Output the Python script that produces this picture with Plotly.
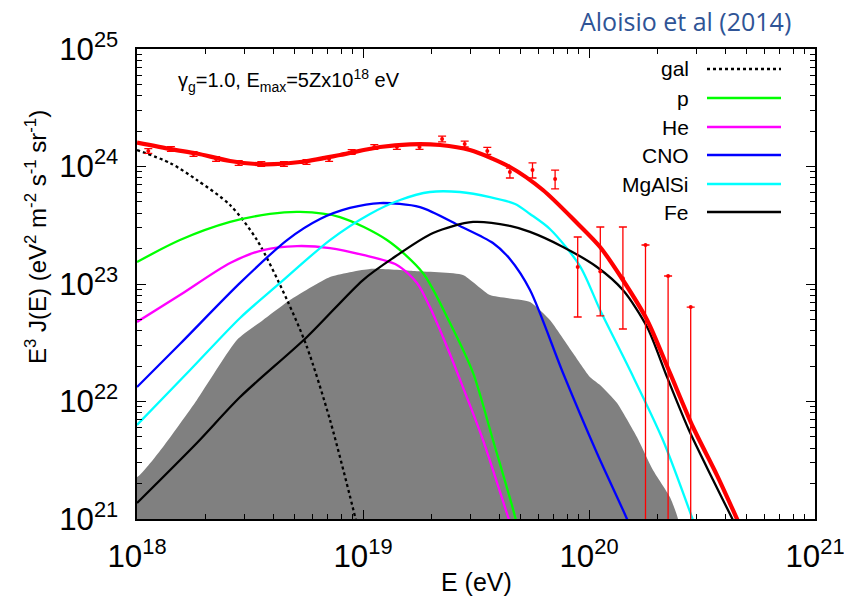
import numpy as np
import plotly.graph_objects as go

# ---------------- data (log10 values) ----------------
names = ["gal", "p", "He", "CNO", "MgAlSi", "Fe"]
colors = ["#000000", "#00FF00", "#FF00FF", "#0000FF", "#00FFFF", "#000000"]

gal_x = [18.000, 18.146, 18.265, 18.412, 18.531, 18.664, 18.752, 18.854, 18.965, 18.990]
gal_y = [24.140, 24.030, 23.885, 23.672, 23.374, 22.864, 22.464, 21.843, 21.017, 20.800]

p_x = [18.000, 18.190, 18.412, 18.588, 18.721, 18.898, 19.106, 19.265, 19.385, 19.487, 19.575, 19.673, 19.695]
p_y = [23.187, 23.374, 23.528, 23.596, 23.613, 23.570, 23.374, 23.094, 22.668, 22.243, 21.672, 21.017, 20.821]

he_x = [18.000, 18.190, 18.412, 18.558, 18.708, 18.854, 19.000, 19.150, 19.239, 19.296, 19.372, 19.442, 19.531, 19.642, 19.670]
he_y = [22.677, 22.906, 23.179, 23.289, 23.323, 23.306, 23.247, 23.162, 23.009, 22.804, 22.464, 22.123, 21.672, 21.017, 20.850]

cno_x = [18.000, 18.190, 18.456, 18.664, 18.810, 18.942, 19.075, 19.252, 19.429, 19.575, 19.650, 19.739, 19.885, 20.035, 20.168, 20.204]
cno_y = [22.123, 22.489, 23.009, 23.374, 23.553, 23.647, 23.689, 23.655, 23.494, 23.349, 23.213, 22.949, 22.243, 21.562, 21.000, 20.821]

mg_x = [18.000, 18.235, 18.456, 18.633, 18.854, 19.031, 19.164, 19.296, 19.429, 19.562, 19.673, 19.739, 19.827, 19.960, 20.049, 20.181, 20.327, 20.460, 20.491]
mg_y = [21.800, 22.268, 22.711, 23.009, 23.374, 23.596, 23.715, 23.783, 23.783, 23.740, 23.681, 23.596, 23.468, 23.153, 22.779, 22.268, 21.672, 20.991, 20.821]

fe_x = [18.000, 18.265, 18.456, 18.752, 19.000, 19.133, 19.310, 19.487, 19.650, 19.739, 19.885, 20.035, 20.150, 20.257, 20.345, 20.442, 20.549, 20.637, 20.690]
fe_y = [21.136, 21.647, 22.038, 22.549, 23.034, 23.221, 23.434, 23.528, 23.494, 23.443, 23.315, 23.145, 22.949, 22.634, 22.209, 21.757, 21.332, 20.991, 20.779]

tot_x = [18.000, 18.155, 18.265, 18.412, 18.558, 18.721, 18.898, 19.075, 19.208, 19.341, 19.473, 19.650, 19.796,
         19.947, 20.049, 20.150, 20.257, 20.358, 20.460, 20.566, 20.659, 20.712]
tot_y = [24.203, 24.146, 24.111, 24.047, 24.019, 24.038, 24.098, 24.166, 24.189, 24.183, 24.140, 23.996, 23.800,
         23.519, 23.315, 23.034, 22.694, 22.243, 21.783, 21.374, 20.983, 20.753]

gray_x = [17.900, 18.000, 18.115, 18.265, 18.442, 18.558, 18.677, 18.854, 19.031, 19.221, 19.442, 19.562, 19.739,
          19.827, 19.929, 20.004, 20.049, 20.124, 20.212, 20.283, 20.358, 20.394, 20.420, 17.900]
gray_y = [21.357, 21.357, 21.613, 22.013, 22.523, 22.694, 22.864, 23.060, 23.128, 23.111, 23.077, 22.906, 22.847,
          22.694, 22.413, 22.209, 22.140, 21.987, 21.698, 21.417, 21.187, 21.000, 20.500, 20.500]

data_x = [18.05, 18.15, 18.25, 18.35, 18.45, 18.55, 18.65, 18.75, 18.85, 18.95, 19.05, 19.15, 19.25,
          19.35, 19.45, 19.55, 19.65, 19.75, 19.85, 19.95, 20.05, 20.15, 20.25, 20.35, 20.45]
data_y = [24.132, 24.149, 24.106, 24.064, 24.030, 24.021, 24.021, 24.038, 24.064, 24.123, 24.166, 24.166, 24.166,
          24.234, 24.191, 24.132, 23.953, 23.970, 23.894, 23.145, 23.106, 23.050, 23.332, 23.068, 22.804]
data_hi = [24.152, 24.169, 24.126, 24.084, 24.050, 24.041, 24.041, 24.058, 24.084, 24.143, 24.186, 24.186, 24.186,
           24.259, 24.216, 24.162, 23.987, 24.030, 23.970, 23.400, 23.485, 23.485, 23.332, 23.068, 22.804]
data_lo = [24.112, 24.129, 24.086, 24.044, 24.010, 24.001, 24.001, 24.018, 24.044, 24.103, 24.146, 24.146, 24.146,
           24.209, 24.166, 24.102, 23.902, 23.902, 23.809, 22.719, 22.728, 22.617, 20.000, 20.000, 20.000]

series = [(gal_x, gal_y), (p_x, p_y), (he_x, he_y), (cno_x, cno_y), (mg_x, mg_y), (fe_x, fe_y)]

def lin(a):
    return 10 ** np.array(a, dtype=float)

fig = go.Figure()

fig.add_trace(go.Scatter(x=lin(gray_x), y=lin(gray_y), mode="lines", fill="toself",
                         fillcolor="#808080", line=dict(width=0, color="#808080", shape="spline", smoothing=0.5),
                         hoverinfo="skip", showlegend=False))

for i, (sx, sy) in enumerate(series):
    fig.add_trace(go.Scatter(
        x=lin(sx), y=lin(sy), mode="lines", name=names[i],
        line=dict(color=colors[i], width=2.3, shape="spline", smoothing=0.8,
                  dash="dot" if names[i] == "gal" else "solid"),
        showlegend=False))

fig.add_trace(go.Scatter(x=lin(tot_x), y=lin(tot_y), mode="lines",
                         line=dict(color="#FF0000", width=4.2, shape="spline", smoothing=0.8),
                         showlegend=False))

dy = lin(data_y)
fig.add_trace(go.Scatter(
    x=lin(data_x), y=dy, mode="markers",
    marker=dict(color="#FF0000", size=4),
    error_y=dict(type="data", symmetric=False, array=lin(data_hi) - dy,
                 arrayminus=dy - lin(data_lo), color="#FF0000", thickness=1.3, width=4),
    showlegend=False))

# ---------------- layout ----------------
L, R, T, B = 137, 29, 49, 87
W, H = 844, 606
pw, ph = W - L - R, H - T - B

def px(x):
    return (x - L) / pw

def py(y):
    return (H - B - y) / ph

axis_common = dict(
    type="log", dtick=1, exponentformat="power", showexponent="all",
    showgrid=False, zeroline=False, showline=True, linecolor="black", linewidth=1.5,
    ticks="inside", ticklen=9, tickwidth=1.2, tickcolor="black", mirror="allticks",
    ticklabeloverflow="allow", automargin=False,
    tickfont=dict(family="Liberation Sans, Arial", size=25, color="black"),
    minor=dict(ticks="inside", ticklen=5, tickwidth=1, tickcolor="black", dtick="D1", showgrid=False),
)

fig.update_layout(
    width=W, height=H, margin=dict(l=L, r=R, t=T, b=B, autoexpand=False),
    paper_bgcolor="white", plot_bgcolor="white",
    xaxis=dict(range=[18, 21], ticklabelstandoff=10, **axis_common),
    yaxis=dict(range=[21, 25], ticklabelstandoff=12, **axis_common),
    showlegend=False,
    font=dict(family="Liberation Sans, Arial", color="black"),
)

ann = []
ann.append(dict(text="E (eV)", x=0.5, y=py(582), xref="paper", yref="paper",
                showarrow=False, font=dict(size=25), xanchor="center", yanchor="middle"))
ann.append(dict(text="E<sup>3</sup> J(E) (eV<sup>2</sup> m<sup>-2</sup> s<sup>-1</sup> sr<sup>-1</sup>)",
                x=px(36), y=py(237), xref="paper", yref="paper", textangle=-90,
                showarrow=False, font=dict(size=24), xanchor="center", yanchor="middle"))
ann.append(dict(text="γ<sub>g</sub>=1.0, E<sub>max</sub>=5Zx10<sup>18</sup> eV",
                x=px(176), y=py(80), xref="paper", yref="paper",
                showarrow=False, font=dict(size=20), xanchor="left", yanchor="middle"))
ann.append(dict(text="Aloisio et al (2014)", x=px(793), y=py(21), xref="paper", yref="paper",
                showarrow=False, font=dict(family="Open Sans", size=25, color="#2F5496"),
                xanchor="right", yanchor="middle"))

rows = [69, 98, 127, 155, 184, 212]
shapes = []
for i, n in enumerate(names):
    ann.append(dict(text=n, x=px(691), y=py(rows[i]), xref="paper", yref="paper",
                    showarrow=False, font=dict(size=21), xanchor="right", yanchor="middle"))
    shapes.append(dict(type="line", xref="paper", yref="paper",
                       x0=px(707), x1=px(781), y0=py(rows[i]), y1=py(rows[i]),
                       line=dict(color=colors[i], width=2.4,
                                 dash="dot" if n == "gal" else "solid")))

fig.update_layout(annotations=ann, shapes=shapes)
fig.write_html("out.html")
